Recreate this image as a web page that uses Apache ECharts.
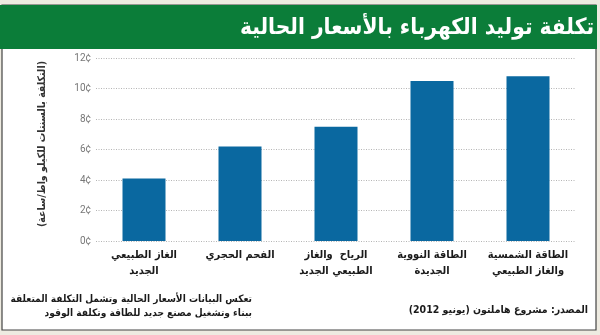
<!DOCTYPE html>
<html>
<head>
<meta charset="utf-8">
<script src="https://cdn.jsdelivr.net/npm/echarts@6/dist/echarts.min.js"></script>
<style>
html,body{margin:0;padding:0;background:#eeebe1;}
#c{position:absolute;left:0;top:0;width:600px;height:335px;}
</style>
</head>
<body>
<div id="c" dir="rtl"></div>
<script>
const categories = ['الغاز الطبيعي\nالجديد', 'الفحم الحجري', 'الرياح  والغاز\nالطبيعي الجديد', 'الطاقة النووية\nالجديدة', 'الطاقة الشمسية\nوالغاز الطبيعي'];
const costs = [4.1, 6.2, 7.5, 10.5, 10.8];
const title = 'تكلفة توليد الكهرباء بالأسعار الحالية';
const yName = '(التكلفة بالسنتات للكيلو واط/ساعة)';
const noteLines = ['تعكس البيانات الأسعار الحالية وتشمل التكلفة المتعلقة', 'ببناء وتشغيل مصنع جديد للطاقة وتكلفة الوقود'];
const source = 'المصدر: مشروع هاملتون (يونيو 2012)';

const AR = '"DejaVu Sans Condensed", "DejaVu Sans", sans-serif';
const chart = echarts.init(document.getElementById('c'), null, {renderer: 'canvas'});
chart.setOption({
  backgroundColor: 'transparent',
  animation: false,
  grid: {left: 96, top: 58, width: 480, height: 183, containLabel: false},
  xAxis: {
    type: 'category', data: categories,
    axisLine: {show: false}, axisTick: {show: false},
    axisLabel: {color: '#1a1a1a', fontFamily: AR, fontWeight: 'bold', fontSize: 11, lineHeight: 16, margin: 6, interval: 0}
  },
  yAxis: {
    type: 'value', min: 0, max: 12, interval: 2,
    axisLine: {show: false}, axisTick: {show: false},
    axisLabel: {formatter: '{value}¢', color: '#777', fontFamily: 'Roboto, sans-serif', fontSize: 10, margin: 5},
    splitLine: {lineStyle: {color: '#b5b5b5', type: [1, 1.5], width: 1}}
  },
  series: [{
    type: 'bar', data: costs, barWidth: 43,
    itemStyle: {color: '#0a68a0'}
  }],
  graphic: [
    {type: 'rect', z: -10, shape: {x: 2, y: 5, width: 594, height: 325}, style: {fill: '#ffffff', stroke: '#444', lineWidth: 1.2}},
    {type: 'rect', z: 10, shape: {x: 0, y: 5, width: 597, height: 44}, style: {fill: '#0b7d39'}},
    {type: 'text', z: 11, x: 594, y: 28, style: {text: title, fill: '#ffffff', font: 'bold 22.5px ' + AR, align: 'right', verticalAlign: 'middle'}},
    {type: 'text', z: 11, x: 42, y: 144, rotation: Math.PI / 2, style: {text: yName, fill: '#333', font: 'bold 10.5px ' + AR, align: 'center', verticalAlign: 'middle'}},
    {type: 'text', z: 11, x: 252, y: 299, style: {text: noteLines[0], fill: '#1a1a1a', font: 'bold 10.1px ' + AR, align: 'right', verticalAlign: 'middle'}},
    {type: 'text', z: 11, x: 252, y: 313, style: {text: noteLines[1], fill: '#1a1a1a', font: 'bold 10.1px ' + AR, align: 'right', verticalAlign: 'middle'}},
    {type: 'text', z: 11, x: 588, y: 310, style: {text: source, fill: '#1a1a1a', font: 'bold 10.5px ' + AR, align: 'right', verticalAlign: 'middle'}}
  ]
});
</script>
</body>
</html>
